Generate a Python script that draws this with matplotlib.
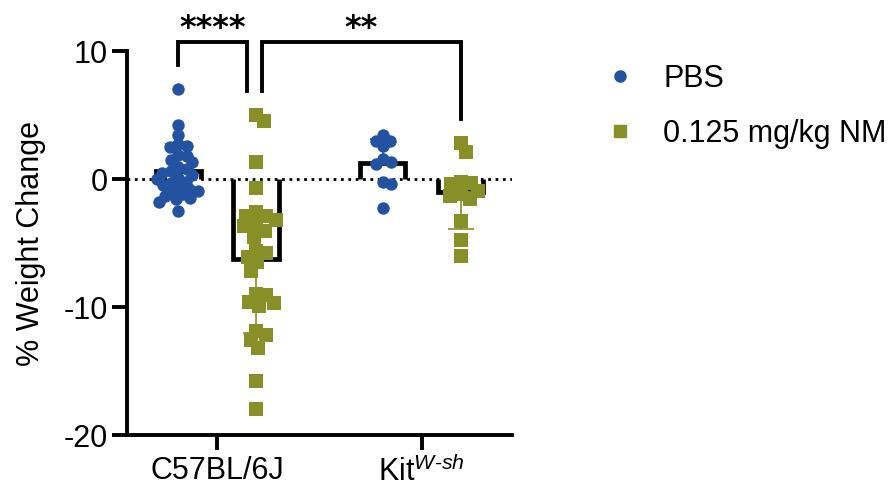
import numpy as np
import matplotlib

matplotlib.use("Agg")
from matplotlib import pyplot as plt
from matplotlib.lines import Line2D

plt.rcParams["font.family"] = ["Liberation Sans", "DejaVu Sans"]
plt.rcParams["mathtext.fontset"] = "custom"
plt.rcParams["mathtext.rm"] = "Liberation Sans"
plt.rcParams["mathtext.it"] = "Liberation Sans:italic"
plt.rcParams["axes.unicode_minus"] = False

# ---------------------------------------------------------------- data
strains = ["C57BL/6J", r"Kit$^{\mathit{W\text{-}sh}}$"]
treatments = ["PBS", "0.125 mg/kg NM"]

c57_pbs = [7.0, 4.2, 3.4, 2.7, 2.6, 2.5, 1.9, 1.8, 1.5, 1.3, 0.9, 0.8, 0.6, 0.5, 0.3,
           0.1, 0.0, -0.2, -0.3, -0.5, -0.6, -0.8, -0.9, -1.0, -1.2, -1.3, -1.5, -1.6,
           -1.8, -2.5]
c57_nm = [5.0, 4.5, 1.3, -0.7, -2.6, -2.9, -2.9, -3.2, -3.7, -3.7, -4.1, -4.5, -5.6,
          -5.8, -6.1, -6.5, -7.2, -9.0, -9.1, -9.6, -9.7, -9.9, -11.9, -12.2, -12.6,
          -13.2, -15.8, -18.0]
kit_pbs = [3.4, 3.0, 3.0, 2.6, 1.6, 1.35, 1.2, -0.2, -0.4, -2.3]
kit_nm = [2.8, 2.1, -0.2, -0.3, -0.4, -0.9, -1.2, -1.3, -1.6, -3.3, -4.8, -6.0]

values = [[c57_pbs, c57_nm], [kit_pbs, kit_nm]]

# bar height (mean) and SD
bar_mean = [[0.6, -6.25], [1.25, -1.0]]
bar_sd = [[2.1, 5.75], [1.9, 2.9]]

# significance: (strain, treatment) pairs and label
comparisons = [((0, 0), (0, 1), "****"), ((0, 1), (1, 1), "**")]

colors = ["#2352a0", "#888f26"]
markers = ["o", "s"]
marker_size = [80, 88]
swarm_gap = [8.5, 10.5]   # min distance between point centres, pixels
dodge = 0.19
bar_w = 0.22


def swarm(ypix, d):
    """simple beeswarm: horizontal pixel offsets so points don't collide"""
    xs = np.zeros(len(ypix))
    placed = []
    for i in np.argsort(ypix)[::-1]:
        y = ypix[i]
        cands = [0.0]
        for j in placed:
            dy = abs(ypix[j] - y)
            if dy < d:
                dx = np.sqrt(d * d - dy * dy)
                cands += [xs[j] + dx, xs[j] - dx]
        cands.sort(key=abs)
        for c in cands:
            if all((xs[j] - c) ** 2 + (ypix[j] - y) ** 2 >= d * d - 1e-6 for j in placed):
                xs[i] = c
                break
        placed.append(i)
    return xs


fig = plt.figure(figsize=(8.91, 4.90), dpi=100)
ax = fig.add_axes([0.1425, 0.1122, 0.4321, 0.7837])
ax.set_xlim(-0.44, 1.44)
ax.set_ylim(-20, 10)

ax.axhline(0, color="k", ls=":", lw=2.0, zorder=2)

for g in range(len(strains)):
    for t in range(len(treatments)):
        xc = g + (2 * t - 1) * dodge
        m = bar_mean[g][t]
        sd = bar_sd[g][t]
        # open bar (no line along the baseline)
        ax.plot([xc - bar_w / 2, xc - bar_w / 2, xc + bar_w / 2, xc + bar_w / 2],
                [0, m, m, 0], color="k", lw=3.4, solid_joinstyle="miter",
                solid_capstyle="butt", zorder=1)
        yerr = [[0], [sd]] if m >= 0 else [[sd], [0]]
        ax.errorbar([xc], [m], yerr=yerr, fmt="none", ecolor=colors[t], elinewidth=1.2,
                    capsize=9.5, capthick=1.2, zorder=3)
        # points
        y = np.array(values[g][t], dtype=float)
        pix = ax.transData.transform(np.column_stack([np.full(len(y), xc), y]))
        pix[:, 0] += swarm(pix[:, 1], swarm_gap[t])
        pts = ax.transData.inverted().transform(pix)
        ax.scatter(pts[:, 0], pts[:, 1], s=marker_size[t], marker=markers[t],
                   color=colors[t], linewidths=0, zorder=4, clip_on=False)

# significance brackets
for (g1, t1), (g2, t2), label in comparisons:
    x1 = g1 + (2 * t1 - 1) * dodge
    x2 = g2 + (2 * t2 - 1) * dodge
    if g1 == g2:
        x2 -= 0.045
    else:
        x1 += 0.03
    top = 10.7
    y1 = max(values[g1][t1]) + 1.9
    y2 = max(values[g2][t2]) + 1.9
    ax.plot([x1, x1, x2, x2], [y1, top, top, y2], color="k", lw=2.8,
            solid_joinstyle="miter", clip_on=False, zorder=5)
    ax.text((x1 + x2) / 2, 11.1, label, ha="center", va="baseline", fontsize=23,
            fontweight="bold", family="DejaVu Sans", clip_on=False)

ax.spines["top"].set_visible(False)
ax.spines["right"].set_visible(False)
for s in ["left", "bottom"]:
    ax.spines[s].set_linewidth(2.8)
ax.set_yticks([-20, -10, 0, 10])
ax.set_xticks(range(len(strains)))
ax.set_xticklabels(strains)
ax.tick_params(axis="both", length=11, width=2.8, labelsize=22, pad=3)
ax.tick_params(axis="x", pad=4)
ax.set_ylabel("% Weight Change", fontsize=22, labelpad=12)

handles = [Line2D([], [], ls="none", marker=markers[t], color=colors[t], markersize=8)
           for t in range(len(treatments))]
fig.legend(handles, treatments, loc="upper left", bbox_to_anchor=(0.679, 0.869),
           frameon=False, fontsize=22, handlelength=1.0, handletextpad=0.9,
           labelspacing=0.8, borderpad=0, borderaxespad=0)

fig.savefig("out.png", dpi=100)
